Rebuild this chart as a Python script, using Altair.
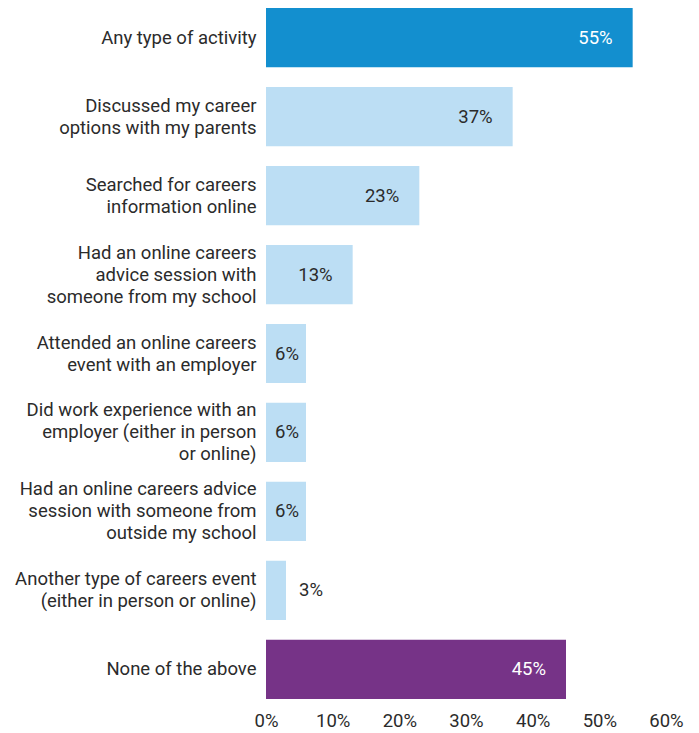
import altair as alt
import pandas as pd

categories = [
    "Any type of activity",
    "Discussed my career|options with my parents",
    "Searched for careers|information online",
    "Had an online careers|advice session with|someone from my school",
    "Attended an online careers|event with an employer",
    "Did work experience with an|employer (either in person|or online)",
    "Had an online careers advice|session with someone from|outside my school",
    "Another type of careers event|(either in person or online)",
    "None of the above",
]
values = [55, 37, 23, 13, 6, 6, 6, 3, 45]
groups = ["total", "activity", "activity", "activity", "activity",
          "activity", "activity", "activity", "none"]

group_names = ["total", "activity", "none"]
group_colors = ["#138fcf", "#bcdef4", "#763387"]
text_colors = ["#ffffff", "#2b2b2b", "#ffffff"]

df = pd.DataFrame({"category": categories, "value": values, "group": groups})
df["label"] = [f"{v}%" for v in values]

FONT = "Roboto"
FS = 18.5
LH = 22

y_enc = alt.Y(
    "category:N", sort=categories, title=None,
    scale=alt.Scale(paddingInner=0.25, paddingOuter=0),
    axis=alt.Axis(
        labelExpr="split(datum.label, '|')", labelFont=FONT,
        labelFontSize=FS, labelColor="#2b2b2b", labelLineHeight=LH,
        labelPadding=10, ticks=False, domain=False, labelLimit=400,
        labelOffset={
            "condition": [
                {"test": "length(split(datum.label, '|')) == 3", "value": -LH},
                {"test": "length(split(datum.label, '|')) == 2", "value": -LH / 2},
            ],
            "value": 0,
        },
    ),
)
x_scale = alt.Scale(domain=[0, 60])

base = alt.Chart(df)

bars = base.mark_bar().encode(
    x=alt.X("value:Q", scale=x_scale, title=None,
            axis=alt.Axis(values=[0, 10, 20, 30, 40, 50, 60],
                          labelExpr="datum.value + '%'", grid=False,
                          domain=False, ticks=False, labelFont=FONT,
                          labelFontSize=FS, labelColor="#2b2b2b",
                          labelPadding=12, labelFlush=False)),
    y=y_enc,
    color=alt.Color("group:N", scale=alt.Scale(domain=group_names, range=group_colors),
                    legend=None),
)

txt_color = alt.Color("group:N", scale=alt.Scale(domain=group_names, range=text_colors),
                      legend=None)

inside = base.transform_filter("datum.value >= 10").mark_text(
    align="right", baseline="middle", dx=-20, font=FONT, fontSize=FS
).encode(x=alt.X("value:Q", scale=x_scale), y=alt.Y("category:N", sort=categories),
         text="label:N", color=txt_color)

mid = base.transform_filter("datum.value >= 5 && datum.value < 10").mark_text(
    align="left", baseline="middle", dx=9, font=FONT, fontSize=FS, color="#2b2b2b"
).encode(x=alt.datum(0, scale=x_scale), y=alt.Y("category:N", sort=categories),
         text="label:N")

outside = base.transform_filter("datum.value < 5").mark_text(
    align="left", baseline="middle", dx=13, font=FONT, fontSize=FS, color="#2b2b2b"
).encode(x=alt.X("value:Q", scale=x_scale), y=alt.Y("category:N", sort=categories),
         text="label:N")

chart = alt.layer(bars, inside, mid, outside).properties(
    width=400, height=691,
    padding={"left": 6, "top": 0, "right": 5, "bottom": 0},
).configure_view(stroke=None).resolve_scale(color="independent")

chart.save("out.html", embed_options={"renderer": "svg", "actions": False})
